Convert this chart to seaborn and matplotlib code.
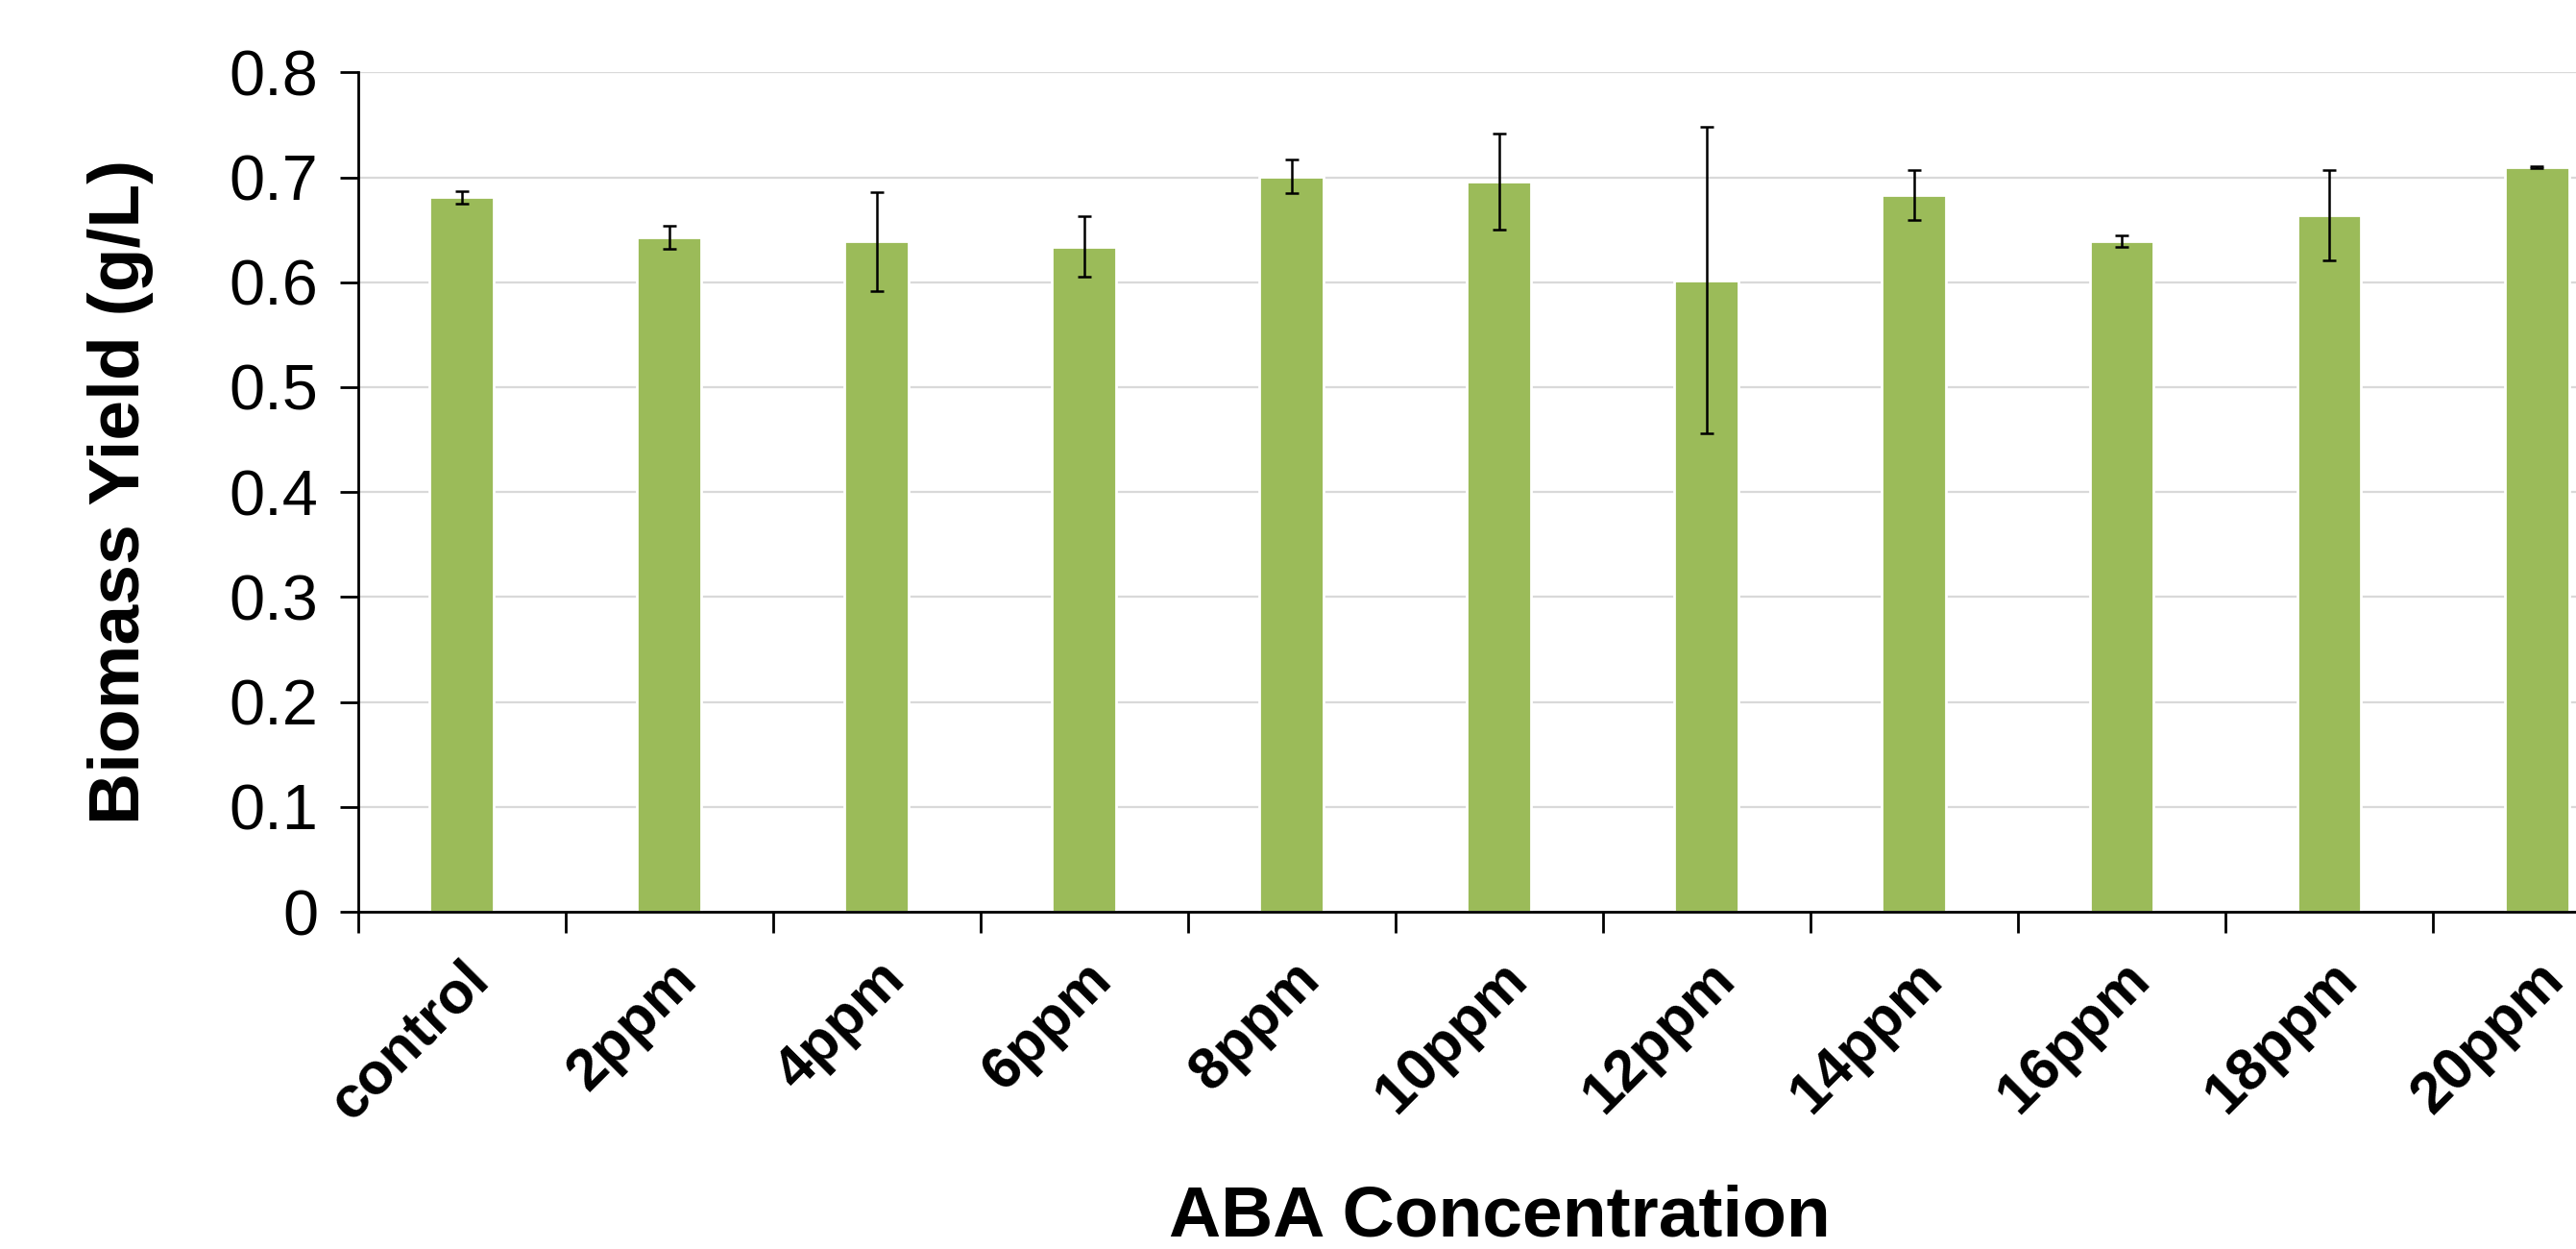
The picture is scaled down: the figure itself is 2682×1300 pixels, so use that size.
import numpy as np
import pandas as pd
import seaborn as sns
import matplotlib.pyplot as plt

# valores
categories = ["control", "2ppm", "4ppm", "6ppm", "8ppm", "10ppm",
              "12ppm", "14ppm", "16ppm", "18ppm", "20ppm"]
biomass = [0.681, 0.643, 0.639, 0.634, 0.701, 0.696,
           0.602, 0.683, 0.639, 0.664, 0.710]
errors = [0.006, 0.011, 0.047, 0.029, 0.016, 0.046,
          0.146, 0.024, 0.0055, 0.043, 0.001]

df = pd.DataFrame({"ABA": categories, "Biomass": biomass})

sns.set_style("white")
plt.rcParams['font.family'] = ['Liberation Sans', 'DejaVu Sans']
plt.rcParams['text.color'] = 'black'
plt.rcParams['axes.labelcolor'] = 'black'
plt.rcParams['xtick.color'] = 'black'
plt.rcParams['ytick.color'] = 'black'

fig = plt.figure(figsize=(13.41, 6.5), dpi=200)
# el eje se sale por la derecha, como en la imagen original (recortada)
ax = fig.add_axes([0.139, 0.270, 0.886, 0.672])

sns.barplot(data=df, x="ABA", y="Biomass", color="#9BBB59", width=0.31,
            saturation=1, errorbar=None, ax=ax, zorder=2)
ax.errorbar(np.arange(len(categories)), biomass, yerr=errors, fmt='none',
            ecolor='black', elinewidth=0.9, capsize=2.5, capthick=0.9, zorder=3)

ax.set_xlim(-0.5, len(categories) - 0.5)
ax.set_ylim(0, 0.8)
ax.set_yticks(np.arange(0, 0.81, 0.1))
ax.set_yticklabels(["0", "0.1", "0.2", "0.3", "0.4", "0.5", "0.6", "0.7", "0.8"])
ax.yaxis.grid(True, color="#d9d9d9", linewidth=0.8, zorder=0)
ax.set_axisbelow(True)

for side in ["top", "right"]:
    ax.spines[side].set_visible(False)
ax.spines["left"].set_color("black")
ax.spines["bottom"].set_color("black")
ax.spines["left"].set_linewidth(1.0)
ax.spines["bottom"].set_linewidth(1.0)

# ticks entre categorias, como en Excel
ax.set_xticks(np.arange(len(categories)))
ax.set_xticks(np.arange(len(categories) + 1) - 0.5, minor=True)
ax.tick_params(axis='x', which='major', length=0, pad=15)
ax.tick_params(axis='x', which='minor', bottom=True, length=8, width=1.0,
               direction='out', color='black')
ax.tick_params(axis='y', length=7, width=1.0, direction='out', color='black',
               left=True, labelsize=24, pad=8)
ax.set_xticklabels(categories, rotation=45, ha='right', rotation_mode='anchor',
                   fontsize=22, fontweight='bold')

ax.set_xlabel("ABA Concentration", fontsize=27, fontweight='bold', labelpad=20)
ax.set_ylabel("Biomass Yield (g/L)", fontsize=27, fontweight='bold', labelpad=28)

fig.savefig("out.png", dpi=200)
